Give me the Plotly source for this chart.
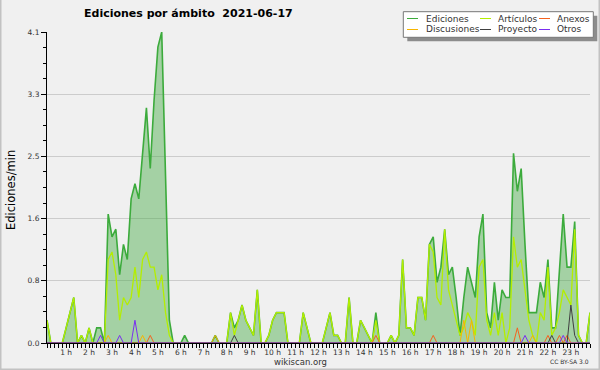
import plotly.graph_objects as go

# 10-minute buckets, 00:10 ... 23:50 (edits per minute)
ediciones = [
    0.3, 0, 0, 0, 0, 0.2, 0.4, 0.6, 0, 0.1, 0, 0.2,
    0, 0.2, 0.2, 0, 1.7, 1.4, 1.5, 0.9, 1.3, 1.1, 1.9, 2.1,
    1.9, 2.5, 3.1, 2.3, 3.2, 3.9, 4.1, 2.2, 0.3, 0, 0, 0,
    0.1, 0, 0, 0, 0, 0, 0, 0, 0.1, 0, 0, 0,
    0.4, 0.2, 0.3, 0.5, 0.3, 0.2, 0.1, 0.7, 0, 0, 0.1, 0.3,
    0.4, 0.4, 0.4, 0, 0, 0, 0, 0.4, 0.2, 0, 0, 0,
    0, 0.2, 0.4, 0.1, 0.1, 0, 0, 0.6, 0, 0, 0.3, 0.2,
    0.1, 0, 0.4, 0, 0, 0, 0.1, 0, 0.1, 1.1, 0.2, 0.2,
    0.1, 0.6, 0.6, 0.3, 1.3, 1.4, 0.8, 1.0, 1.5, 0.9, 1.0, 0.6,
    0.1, 0.6, 1.0, 0.8, 0.6, 1.4, 1.7, 0.4, 0.2, 0.8, 0.3, 0.7,
    0.6, 0.6, 2.5, 2.0, 2.3, 1.3, 0.4, 0.4, 0.4, 0.8, 0.6, 1.1,
    0.2, 0.2, 0.9, 1.7, 1.0, 1.0, 1.6, 0.1, 0, 0, 0.4,
]
articulos = [
    0.3, 0, 0, 0, 0, 0.2, 0.4, 0.6, 0, 0.1, 0, 0.2,
    0, 0, 0, 0, 1.1, 1.2, 0.9, 0.3, 0.6, 0.5, 0.6, 1.0,
    0.6, 1.1, 1.2, 1.0, 1.0, 0.7, 0.9, 0.4, 0.1, 0, 0, 0,
    0, 0, 0, 0, 0, 0, 0, 0, 0, 0, 0, 0,
    0.4, 0.1, 0.3, 0.5, 0.3, 0.2, 0.1, 0.7, 0, 0, 0.1, 0.3,
    0.4, 0.4, 0.4, 0, 0, 0, 0, 0.4, 0.2, 0, 0, 0,
    0, 0.2, 0.4, 0.1, 0.1, 0, 0, 0.6, 0, 0, 0.3, 0.2,
    0.1, 0, 0.3, 0, 0, 0, 0.1, 0, 0.1, 1.1, 0.2, 0.2,
    0.1, 0.6, 0.6, 0.3, 1.3, 1.2, 0.6, 0.5, 1.5, 0.7, 0.5, 0.3,
    0.1, 0.2, 0.4, 0.3, 0.1, 1.0, 1.1, 0.3, 0.1, 0.4, 0.1, 0.4,
    0, 0.2, 1.4, 1.0, 1.1, 0.7, 0.3, 0.1, 0, 0.4, 0.3, 1.0,
    0.1, 0.2, 0.4, 0.7, 0.6, 0.5, 1.5, 0.1, 0, 0, 0.4,
]
anexos = [
    0, 0, 0, 0, 0, 0, 0, 0, 0, 0, 0, 0,
    0, 0, 0, 0, 0, 0, 0, 0, 0, 0, 0, 0,
    0, 0, 0, 0.1, 0, 0, 0, 0, 0, 0, 0, 0,
    0, 0, 0, 0, 0, 0, 0, 0, 0, 0, 0, 0,
    0, 0, 0, 0, 0, 0, 0, 0, 0, 0, 0, 0,
    0, 0, 0, 0, 0, 0, 0, 0, 0, 0, 0, 0,
    0, 0, 0, 0, 0, 0, 0, 0, 0, 0, 0, 0,
    0, 0, 0.1, 0, 0, 0, 0, 0, 0, 0, 0, 0,
    0, 0, 0, 0, 0, 0.1, 0, 0, 0, 0, 0, 0,
    0, 0, 0, 0, 0, 0, 0, 0, 0, 0, 0, 0,
    0, 0, 0, 0.2, 0, 0, 0, 0, 0, 0, 0, 0.1,
    0, 0, 0.1, 0, 0.1, 0, 0, 0, 0, 0, 0,
]
discusiones = [
    0, 0, 0, 0, 0, 0, 0, 0, 0, 0, 0, 0,
    0, 0, 0, 0, 0.1, 0, 0, 0, 0, 0, 0, 0,
    0, 0.1, 0, 0, 0, 0, 0, 0, 0, 0, 0, 0,
    0, 0, 0, 0, 0, 0, 0, 0, 0.1, 0, 0, 0,
    0, 0, 0, 0, 0, 0, 0, 0, 0, 0, 0, 0,
    0, 0, 0, 0, 0, 0, 0, 0, 0, 0, 0, 0,
    0, 0, 0, 0, 0, 0, 0, 0, 0, 0, 0, 0,
    0, 0, 0, 0, 0, 0, 0, 0, 0, 0, 0, 0,
    0, 0, 0, 0, 0, 0, 0, 0, 0, 0, 0, 0,
    0, 0.3, 0, 0.3, 0, 0, 0, 0, 0, 0, 0, 0,
    0, 0, 0, 0, 0, 0, 0, 0.1, 0, 0, 0, 0,
    0, 0, 0, 0, 0, 0, 0, 0, 0, 0, 0,
]
proyecto = [
    0, 0, 0, 0, 0, 0, 0, 0, 0, 0, 0, 0,
    0, 0, 0, 0, 0, 0, 0, 0, 0, 0, 0, 0,
    0, 0, 0, 0, 0, 0, 0, 0, 0, 0, 0, 0,
    0, 0, 0, 0, 0, 0, 0, 0, 0, 0, 0, 0,
    0, 0.1, 0, 0, 0, 0, 0, 0, 0, 0, 0, 0,
    0, 0, 0, 0, 0, 0, 0, 0, 0, 0, 0, 0,
    0, 0, 0, 0, 0, 0, 0, 0, 0, 0, 0, 0,
    0, 0, 0, 0, 0, 0, 0, 0, 0, 0, 0, 0,
    0, 0, 0, 0, 0, 0, 0, 0, 0, 0, 0, 0,
    0, 0, 0, 0, 0, 0, 0, 0, 0, 0, 0, 0,
    0, 0, 0, 0, 0, 0, 0, 0, 0, 0, 0, 0,
    0.1, 0, 0, 0, 0, 0.5, 0.1, 0, 0, 0, 0,
]
otros = [
    0, 0, 0, 0, 0, 0, 0, 0, 0, 0, 0, 0,
    0, 0, 0.1, 0, 0, 0, 0, 0.1, 0, 0, 0, 0.3,
    0, 0, 0, 0, 0, 0, 0, 0, 0, 0, 0, 0,
    0, 0, 0, 0, 0, 0, 0, 0, 0, 0, 0, 0,
    0, 0, 0, 0, 0, 0, 0, 0, 0, 0, 0, 0,
    0, 0, 0, 0, 0, 0, 0, 0, 0, 0, 0, 0,
    0, 0, 0, 0, 0, 0, 0, 0, 0, 0, 0, 0,
    0, 0, 0, 0, 0, 0, 0, 0, 0, 0, 0, 0,
    0, 0, 0, 0, 0, 0, 0, 0, 0, 0, 0, 0,
    0, 0, 0, 0, 0, 0, 0, 0, 0, 0, 0, 0,
    0, 0, 0, 0, 0, 0.1, 0, 0, 0, 0, 0, 0,
    0, 0, 0, 0.1, 0, 0, 0, 0, 0, 0, 0,
]

hour_ticks = list(range(1, 24))
hour_labels = [f"{h} h" for h in hour_ticks]
y_ticks = [0, 0.82, 1.64, 2.46, 3.28, 4.1]
y_labels = ["0.0", "0.8", "1.6", "2.5", "3.3", "4.1"]

title_text = "Ediciones por ámbito\u00a0 2021-06-17"
y_title = "Ediciones/min"

x_hours = [(i + 1) / 6 for i in range(len(ediciones))]

FONT = "DejaVu Sans"
C_ED = "#3cab3c"
C_ED_FILL = "rgba(70,170,70,0.45)"
C_AR = "#b4ee00"
C_AN = "#f5621e"
C_DI = "#f7b500"
C_PR = "#404040"
C_OT = "#7a2ef0"

fig = go.Figure()
fig.add_trace(go.Scatter(x=x_hours, y=ediciones, mode="lines", name="Ediciones",
                         line=dict(color=C_ED, width=1.6), fill="tozeroy",
                         fillcolor=C_ED_FILL))
fig.add_trace(go.Scatter(x=x_hours, y=articulos, mode="lines", name="Artículos",
                         line=dict(color=C_AR, width=1.3)))
for name, vals, col in [("Anexos", anexos, C_AN), ("Discusiones", discusiones, C_DI),
                        ("Proyecto", proyecto, C_PR), ("Otros", otros, C_OT)]:
    fig.add_trace(go.Scatter(x=x_hours, y=vals, mode="lines", name=name,
                             line=dict(color=col, width=1)))

L, R, T, B = 47, 590, 32, 343
W, H = 600, 370


def px(X):
    return (X - L) / (R - L)


def py(Y):
    return (B - Y) / (B - T)


fig.update_layout(
    width=W, height=H,
    margin=dict(l=L, r=W - R, t=T, b=H - B, pad=0),
    paper_bgcolor="#f0f0f0", plot_bgcolor="#f0f0f0",
    showlegend=False,
    font=dict(family=FONT, color="#333333"),
    xaxis=dict(range=[1 / 6, len(ediciones) / 6], showgrid=False, zeroline=False,
               showline=True, linecolor="black", linewidth=1,
               ticks="outside", ticklen=4, tickcolor="black", tickwidth=1,
               tickvals=hour_ticks, ticktext=hour_labels, ticklabelstandoff=-2,
               tickfont=dict(family=FONT, size=7.5, color="#333333"),
               minor=dict(ticks="outside", dtick=1 / 6, tick0=0, ticklen=4,
                          tickcolor="black", tickwidth=1, showgrid=False)),
    yaxis=dict(range=[0, 4.1], showgrid=True, gridcolor="#cccccc", gridwidth=1,
               zeroline=False, showline=True, linecolor="black", linewidth=1,
               ticks="outside", ticklen=5, tickcolor="black", tickwidth=1,
               tickvals=y_ticks, ticktext=y_labels,
               tickfont=dict(family=FONT, size=7.5, color="#333333"),
               minor=dict(ticks="outside", dtick=0.205, tick0=0, ticklen=3,
                          tickcolor="black", tickwidth=1, showgrid=False)),
)

ann = [
    dict(text="<b>" + title_text + "</b>", x=px(188.5), y=py(14), xref="paper", yref="paper",
         showarrow=False, xanchor="center", yanchor="middle",
         font=dict(family=FONT, size=11, color="black")),
    dict(text=y_title, x=px(11), y=py(190), xref="paper", yref="paper", textangle=-90,
         showarrow=False, xanchor="center", yanchor="middle",
         font=dict(family=FONT, size=11.5, color="black")),
    dict(text="wikiscan.org", x=px(300), y=py(362), xref="paper", yref="paper",
         showarrow=False, xanchor="center", yanchor="middle",
         font=dict(family=FONT, size=8.5, color="#333333")),
    dict(text="CC BY-SA 3.0", x=px(569), y=py(361.5), xref="paper", yref="paper",
         showarrow=False, xanchor="center", yanchor="middle",
         font=dict(family=FONT, size=6, color="#333333")),
]

shapes = [
    # frame around the image (left, right, bottom)
    dict(type="line", xref="paper", yref="paper", x0=px(0.75), x1=px(0.75),
         y0=py(0), y1=py(370), line=dict(color="#c2c2c2", width=1.5)),
    dict(type="line", xref="paper", yref="paper", x0=px(599.25), x1=px(599.25),
         y0=py(0), y1=py(370), line=dict(color="#c2c2c2", width=1.5)),
    dict(type="line", xref="paper", yref="paper", x0=px(0), x1=px(600),
         y0=py(369.25), y1=py(369.25), line=dict(color="#c2c2c2", width=1.5)),
    # legend box with shadow
    dict(type="rect", xref="paper", yref="paper", x0=px(407.3), x1=px(597.3),
         y0=py(15.7), y1=py(41.3), fillcolor="#8c8c8c", line=dict(width=0)),
    dict(type="rect", xref="paper", yref="paper", x0=px(403.3), x1=px(593.3),
         y0=py(11.7), y1=py(37.3), fillcolor="white", line=dict(color="#777777", width=1)),
]

legend_items = [
    ("Ediciones", C_ED, 407, 424, 18.5), ("Artículos", C_AR, 480, 496, 18.5),
    ("Anexos", C_AN, 539, 555, 18.5), ("Discusiones", C_DI, 407, 424, 29.5),
    ("Proyecto", C_PR, 480, 496, 29.5), ("Otros", C_OT, 539, 555, 29.5),
]
for name, col, lx, tx, ly in legend_items:
    shapes.append(dict(type="line", xref="paper", yref="paper", x0=px(lx), x1=px(lx + 11),
                       y0=py(ly), y1=py(ly), line=dict(color=col, width=1)))
    ann.append(dict(text=name, x=px(tx), y=py(ly), xref="paper", yref="paper",
                    showarrow=False, xanchor="left", yanchor="middle",
                    font=dict(family=FONT, size=9, color="#333333")))

fig.update_layout(annotations=ann, shapes=shapes)

fig.write_html("out.html", config={"displayModeBar": False},
               post_script="document.body.style.margin='0';document.body.style.overflow='hidden';")
